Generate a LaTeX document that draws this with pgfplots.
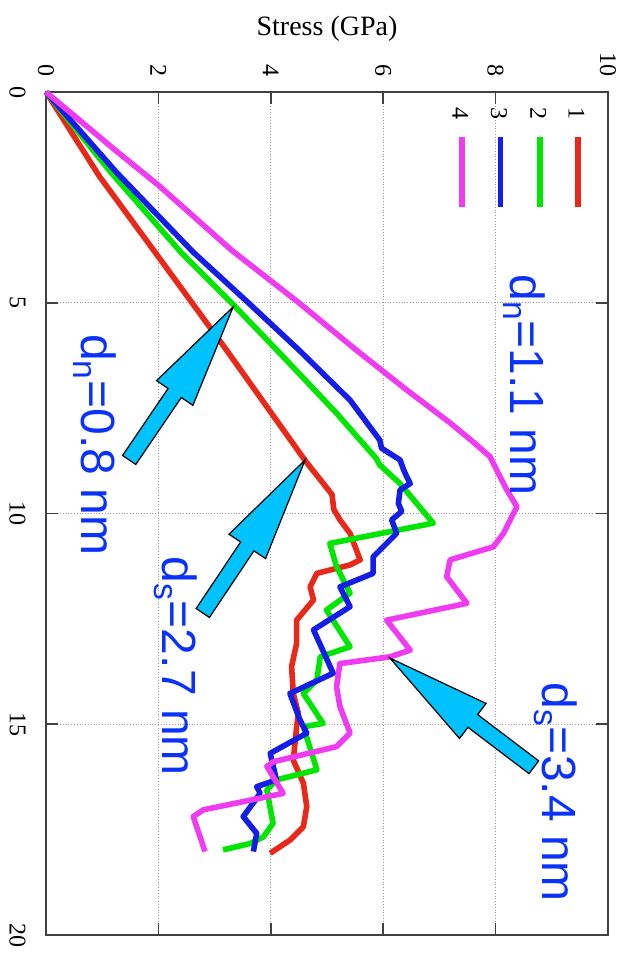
\documentclass[border=0pt]{standalone}
\usepackage{fontspec}
\setmainfont{Liberation Serif}
\newfontfamily\annfont{Liberation Sans}
\usepackage{pgfplots}
\pgfplotsset{compat=1.18}
\usetikzlibrary{calc}
\definecolor{cRed}{RGB}{232,40,24}
\definecolor{cGreen}{RGB}{0,230,0}
\definecolor{cBlue}{RGB}{20,30,230}
\definecolor{cMag}{RGB}{240,60,240}
\definecolor{cCyan}{RGB}{0,194,255}
\definecolor{cText}{RGB}{10,50,250}
\newcommand{\blockarrow}[2]{%
  \coordinate (N) at ($(#2)!52pt!(#1)$);
  \filldraw[fill=cCyan, draw=black, line width=0.6pt, line join=miter]
    ($(#1)!4pt!90:(#2)$) -- ($(N)!4pt!90:(#2)$) -- ($(N)!11pt!90:(#2)$) -- (#2)
    -- ($(N)!11pt!-90:(#2)$) -- ($(N)!4pt!-90:(#2)$) -- ($(#1)!4pt!-90:(#2)$) -- cycle;
}
\begin{document}
\begin{tikzpicture}
\begin{axis}[
  scale only axis, width=281pt, height=421.5pt,
  xmin=0, xmax=10, ymin=0, ymax=20, y dir=reverse,
  xtick={0,2,...,10}, ytick={0,5,...,20},
  xticklabel pos=upper,
  tick align=inside,
  major tick length=6pt,
  grid=major, major grid style={densely dotted, black!40, line width=0.6pt},
  axis line style={black!75, line width=0.8pt},
  tick style={black!75, line width=0.8pt},
  ticklabel style={font=\fontsize{12}{14}\selectfont, inner sep=0pt},
  xticklabel style={rotate=-90, anchor=east},
  yticklabel style={rotate=-90, anchor=north},
  xticklabel shift=7.5pt, yticklabel shift=10pt,
  /pgf/number format/assume math mode=true,
  clip=false,
  every axis plot/.append style={line width=2.8pt, line join=round},
]
% 1 red
\addplot[cRed] coordinates {
(0,0) (0.95,2.0) (2.05,4.0) (3.20,6.10) (4.62,8.76) (5.09,9.55)
(5.12,9.90) (5.23,10.15) (5.41,10.47) (5.59,11.10) (5.41,11.22) (4.82,11.42)
(4.70,11.74) (4.76,12.05) (4.46,12.53) (4.46,13.08) (4.37,13.63) (4.40,14.27)
(4.49,14.74) (4.46,15.06) (4.40,15.85) (4.58,16.40) (4.64,16.95) (4.58,17.43)
(4.34,17.75) (3.99,18.06)};
% 2 green
\addplot[cGreen] coordinates {
(0,0) (1.15,1.90) (2.40,3.80) (3.30,5.00) (4.22,6.28) (5.17,7.62) (5.88,8.70) (5.94,8.85)
(6.30,9.29) (6.89,10.23) (5.05,10.71) (5.17,11.26) (5.41,11.89) (4.99,12.29)
(5.41,13.16) (4.88,13.40) (4.82,13.95) (4.58,14.27) (4.93,14.98) (4.58,15.06)
(4.82,16.08) (4.10,16.32) (3.93,16.56) (4.04,17.35) (3.87,17.67) (3.63,17.83)
(3.15,17.98)};
% 3 blue
\addplot[cBlue] coordinates {
(0,0) (1.25,1.90) (2.62,3.80) (3.60,5.00) (4.50,6.12) (5.41,7.31) (5.94,8.26)
(5.97,8.45) (6.30,8.73) (6.36,8.95) (6.42,9.13) (6.48,9.29)
(6.30,9.44) (6.27,9.76) (6.33,9.95) (6.15,10.15) (6.24,10.47) (5.82,11.03)
(5.82,11.42) (5.23,11.74) (5.41,12.21) (4.76,12.76) (5.11,13.79) (4.34,14.27)
(4.52,14.90) (4.64,15.21) (3.99,15.69) (4.10,16.32) (3.75,16.48) (3.81,16.64)
(3.51,17.19) (3.75,17.59) (3.69,18.02)};
% 4 magenta
\addplot[cMag] coordinates {
(0,0) (1.25,1.40) (2.00,2.21) (3.30,3.75) (4.50,5.00) (5.50,6.10) (6.40,7.05) (7.19,7.85)
(7.60,8.30) (7.90,8.65) (8.08,9.13) (8.20,9.44) (8.38,9.84) (8.26,10.15)
(8.14,10.47) (7.96,10.79) (7.19,11.10) (7.13,11.50) (7.49,12.13) (6.06,12.53)
(6.48,13.24) (6.12,13.40) (5.23,13.56) (5.17,14.11) (5.23,14.58) (5.41,15.21)
(5.17,15.53) (4.04,15.89) (3.93,16.0) (4.22,16.64) (2.80,17.03) (2.62,17.19)
(2.83,18.02)};
% legend (drawn by hand, rotated like the chart)
\draw[cRed, line width=2.8pt] (axis cs:9.47,1.06) -- (axis cs:9.47,2.72);
\draw[cGreen, line width=2.8pt] (axis cs:8.79,1.06) -- (axis cs:8.79,2.72);
\draw[cBlue, line width=2.8pt] (axis cs:8.09,1.06) -- (axis cs:8.09,2.72);
\draw[cMag, line width=2.8pt] (axis cs:7.40,1.06) -- (axis cs:7.40,2.72);
\node[rotate=-90, font=\fontsize{12}{14}\selectfont, inner sep=0pt] at (axis cs:9.44,0.50) {1};
\node[rotate=-90, font=\fontsize{12}{14}\selectfont, inner sep=0pt] at (axis cs:8.76,0.50) {2};
\node[rotate=-90, font=\fontsize{12}{14}\selectfont, inner sep=0pt] at (axis cs:8.06,0.50) {3};
\node[rotate=-90, font=\fontsize{12}{14}\selectfont, inner sep=0pt] at (axis cs:7.37,0.50) {4};
% axis title
\node[font=\fontsize{14}{16}\selectfont, inner sep=0pt] at (axis cs:5,-1.495) {Stress (GPa)};
% annotations
\node[rotate=-90, font=\annfont\fontsize{24}{28}\selectfont, text=cText, inner sep=0pt] at (axis cs:8.51,6.95) {d\textsubscript{n}=1.1 nm};
\node[rotate=-90, font=\annfont\fontsize{24}{28}\selectfont, text=cText, inner sep=0pt] at (axis cs:0.87,8.37) {d\textsubscript{n}=0.8 nm};
\node[rotate=-90, font=\annfont\fontsize{24}{28}\selectfont, text=cText, inner sep=0pt] at (axis cs:2.31,13.62) {d\textsubscript{s}=2.7 nm};
\node[rotate=-90, font=\annfont\fontsize{24}{28}\selectfont, text=cText, inner sep=0pt] at (axis cs:9.07,16.61) {d\textsubscript{s}=3.4 nm};
% arrow end points
\coordinate (T1) at (axis cs:1.48,8.73);
\coordinate (H1) at (axis cs:3.33,5.10);
\coordinate (T2) at (axis cs:2.79,12.36);
\coordinate (H2) at (axis cs:4.61,8.73);
\coordinate (T3) at (axis cs:8.68,16.02);
\coordinate (H3) at (axis cs:6.12,13.43);
\coordinate (BBnw) at (axis cs:-0.8185,-2.183);
\coordinate (BBse) at (axis cs:10.374,20.593);
\end{axis}
\blockarrow{T1}{H1}
\blockarrow{T2}{H2}
\blockarrow{T3}{H3}
\pgfresetboundingbox
\path[use as bounding box] (BBnw) rectangle (BBse);
\end{tikzpicture}
\end{document}
